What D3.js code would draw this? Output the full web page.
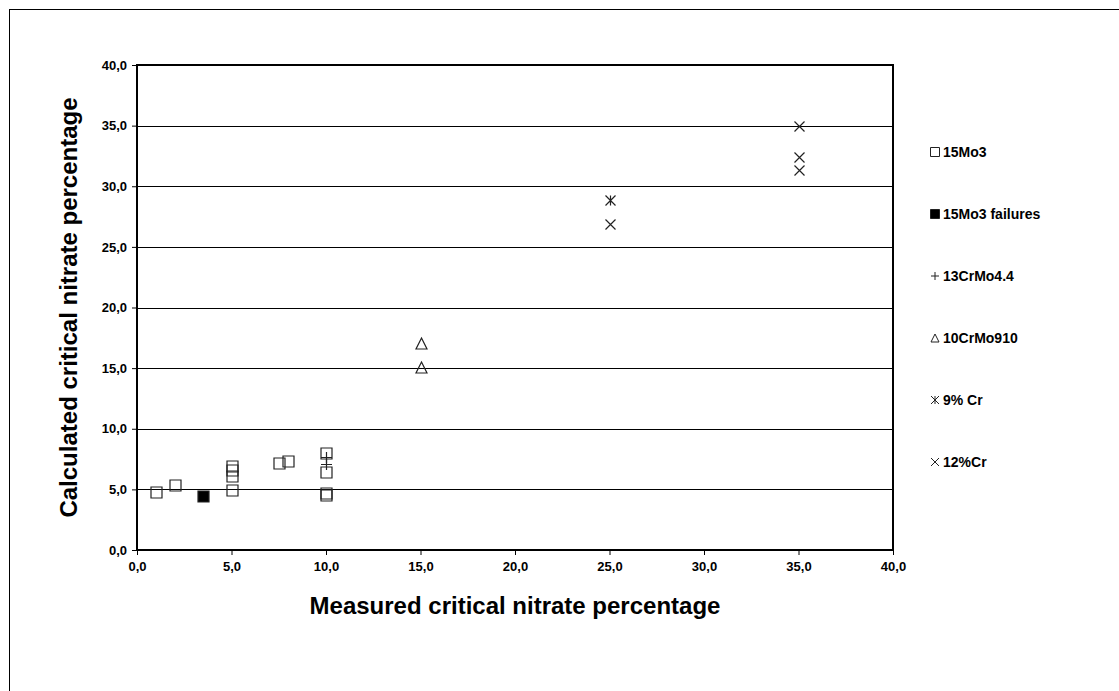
<!DOCTYPE html>
<html>
<head>
<meta charset="utf-8">
<script src="https://cdn.jsdelivr.net/npm/d3@7"></script>
<style>
	body { margin:0; background:#fff; }
	svg { display:block; font-family:'Liberation Sans', Arial, sans-serif; font-weight:bold; }
</style>
</head>
<body>
<svg id="chart" width="1119" height="691"></svg>
<script>
var series_names = ['15Mo3','15Mo3 failures','13CrMo4.4','10CrMo910','9% Cr','12%Cr']
var mo3_x = [1.0, 2.0, 5.0, 5.0, 5.0, 5.0, 7.5, 8.0, 10.0, 10.0, 10.0, 10.0]
var mo3_y = [4.8, 5.4, 4.95, 6.1, 6.6, 6.9, 7.15, 7.3, 8.0, 6.45, 4.7, 4.5]
var fail_x = [3.5]
var fail_y = [4.45]
var crmo44_x = [10.0, 10.0]
var crmo44_y = [7.7, 7.1]
var crmo910_x = [15.0, 15.0]
var crmo910_y = [17.1, 15.1]
var cr9_x = [25.0]
var cr9_y = [28.9]
var cr12_x = [25.0, 35.0, 35.0, 35.0]
var cr12_y = [26.9, 35.0, 32.4, 31.3]
var tick_values = [0,5,10,15,20,25,30,35,40]

var svg = d3.select('#chart')
var plotL = 137, plotR = 893, plotT = 65, plotB = 550
var x = d3.scaleLinear().domain([0,40]).range([plotL,plotR])
var y = d3.scaleLinear().domain([0,40]).range([plotB,plotT])
var fmt = function(d){ return d3.format('.1f')(d).replace('.',',') }

// outer frame
svg.append('rect')
	.attr('x',9.5).attr('y',9.5)
	.attr('width',1130).attr('height',700)
	.style('fill','none').style('stroke','#000').style('stroke-width',1)

// gridlines
svg.append('g').selectAll('line')
	.data(tick_values.slice(1,-1))
	.enter().append('line')
	.attr('x1',plotL).attr('x2',plotR)
	.attr('y1',function(d){ return Math.round(y(d))+0.5 })
	.attr('y2',function(d){ return Math.round(y(d))+0.5 })
	.style('stroke','#000').style('stroke-width',1)

// axes
var yAxis = d3.axisLeft(y).tickValues(tick_values).tickSize(5).tickPadding(5).tickFormat(fmt)
var xAxis = d3.axisBottom(x).tickValues(tick_values).tickSize(5).tickPadding(7).tickFormat(fmt)
svg.append('g').attr('transform','translate('+plotL+',0)').call(yAxis)
svg.append('g').attr('transform','translate(0,'+plotB+')').call(xAxis)
svg.selectAll('.domain').remove()
svg.selectAll('.tick text')
	.style('font-size','13px').style('font-weight','bold').style('fill','#000')
	.style('font-family','Liberation Sans, Arial, sans-serif')
svg.selectAll('.tick line').style('stroke','#000')

// plot border
svg.append('rect')
	.attr('x',plotL).attr('y',plotT)
	.attr('width',plotR-plotL).attr('height',plotB-plotT)
	.style('fill','none').style('stroke','#000').style('stroke-width',2)

// axis titles
svg.append('text')
	.attr('x',(plotL+plotR)/2).attr('y',614)
	.attr('text-anchor','middle')
	.style('font-size','24px')
	.text('Measured critical nitrate percentage')
svg.append('text')
	.attr('transform','translate(77,'+((plotT+plotB)/2)+') rotate(-90)')
	.attr('text-anchor','middle')
	.style('font-size','24px')
	.text('Calculated critical nitrate percentage')

// marker shapes
function markerPath(kind, s){
	var h = s/2
	if (kind === 'square' || kind === 'filled') return 'M'+(-h)+','+(-h)+'h'+s+'v'+s+'h'+(-s)+'Z'
	if (kind === 'triangle') return 'M0,'+(-h)+'L'+h+','+h+'L'+(-h)+','+h+'Z'
	if (kind === 'plus') return 'M'+(-h)+',0H'+h+'M0,'+(-h)+'V'+h
	if (kind === 'cross') return 'M'+(-h)+','+(-h)+'L'+h+','+h+'M'+h+','+(-h)+'L'+(-h)+','+h
	if (kind === 'star') return 'M'+(-h)+','+(-h)+'L'+h+','+h+'M'+h+','+(-h)+'L'+(-h)+','+h+'M0,'+(-h)+'V'+h
}

var series = [
	{name:series_names[0], kind:'square', size:11, xs:mo3_x, ys:mo3_y},
	{name:series_names[1], kind:'filled', size:11, xs:fail_x, ys:fail_y},
	{name:series_names[2], kind:'plus', size:11, xs:crmo44_x, ys:crmo44_y},
	{name:series_names[3], kind:'triangle', size:11, xs:crmo910_x, ys:crmo910_y},
	{name:series_names[4], kind:'star', size:10, xs:cr9_x, ys:cr9_y},
	{name:series_names[5], kind:'cross', size:10, xs:cr12_x, ys:cr12_y}
]

series.forEach(function(s){
	var pts = s.xs.map(function(v,i){ return [v, s.ys[i]] })
	svg.append('g').selectAll('path')
		.data(pts)
		.enter().append('path')
		.attr('transform',function(d){
			return 'translate('+(Math.round(x(d[0]))+0.5)+','+(Math.round(y(d[1]))+0.5)+')'
		})
		.attr('d',markerPath(s.kind,s.size))
		.style('fill',s.kind === 'filled' ? '#000' : 'none')
		.style('stroke','#222')
		.style('stroke-width',1.2)
})

// legend
var legend = svg.append('g').selectAll('g')
	.data(series)
	.enter().append('g')
	.attr('transform',function(d,i){ return 'translate(935,'+(152+i*62)+')' })
legend.append('path')
	.attr('d',function(d){ return markerPath(d.kind, d.kind === 'square' || d.kind === 'filled' ? 9 : 8) })
	.style('fill',function(d){ return d.kind === 'filled' ? '#000' : 'none' })
	.style('stroke','#222')
	.style('stroke-width',1)
legend.append('text')
	.attr('x',8).attr('y',5)
	.style('font-size','14px')
	.text(function(d){ return d.name })
</script>
</body>
</html>
